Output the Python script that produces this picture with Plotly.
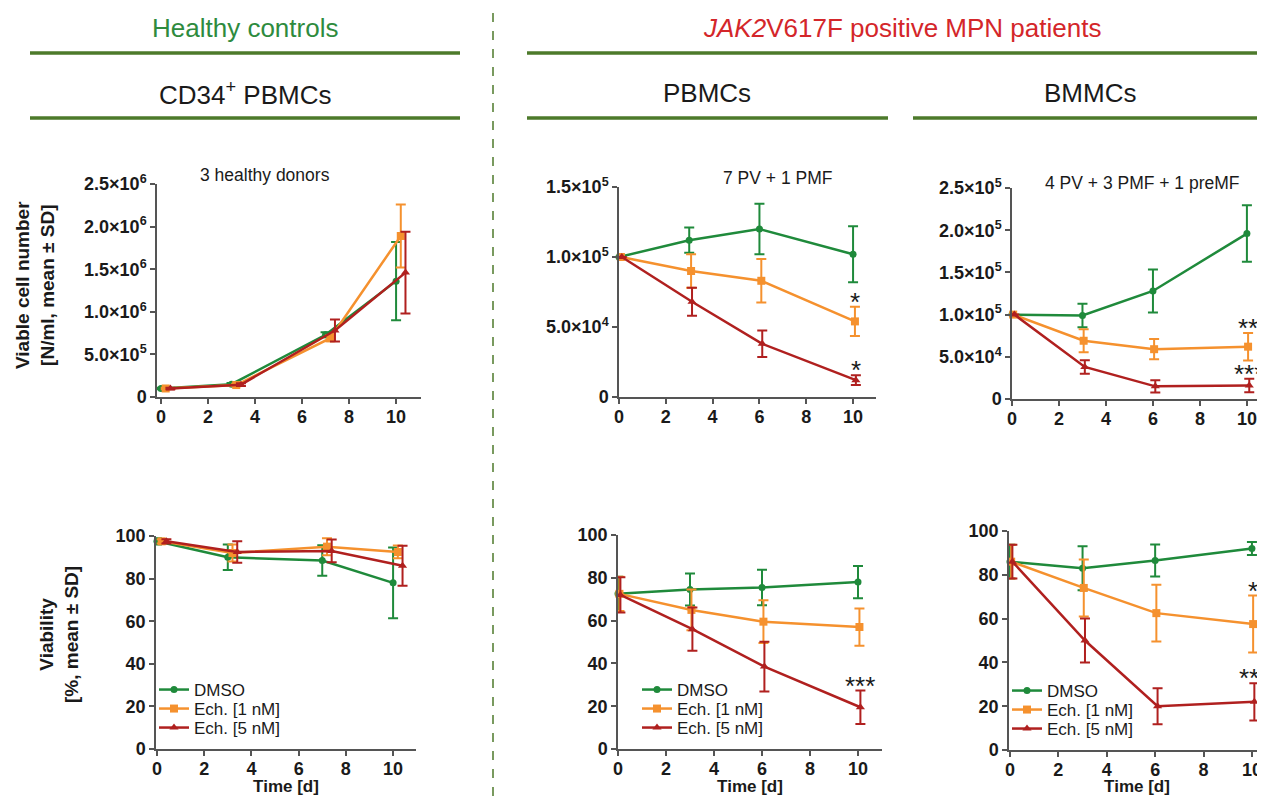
import plotly.graph_objects as go

# page body has an 8px margin: the figure is sized/offset to fill the 1265x796 window
OFF = 8
W, H = 1265 - OFF, 796 - OFF

# ---------------- data ----------------
series_names = ["DMSO", "Ech. [1 nM]", "Ech. [5 nM]"]

healthy_days = [0, 3, 7, 10]
patient_days = [0, 3, 6, 10]

# Healthy controls, CD34+ PBMCs - viable cell number (N/ml)
hc_cells_dmso = [1.0e5, 1.5e5, 7.3e5, 1.36e6]
hc_cells_dmso_sd = [0.1e5, 0.15e5, 0.3e5, 0.46e6]
hc_cells_ech1 = [1.0e5, 1.4e5, 6.9e5, 1.89e6]
hc_cells_ech1_sd = [0.1e5, 0.15e5, 0.35e5, 0.37e6]
hc_cells_ech5 = [1.0e5, 1.45e5, 7.8e5, 1.46e6]
hc_cells_ech5_sd = [0.1e5, 0.15e5, 1.3e5, 0.48e6]

# Healthy controls - viability (%)
hc_via_dmso = [97.5, 90.0, 88.5, 78.0]
hc_via_dmso_sd = [1.5, 6.0, 7.2, 16.6]
hc_via_ech1 = [97.5, 92.0, 95.0, 92.5]
hc_via_ech1_sd = [1.0, 4.0, 4.0, 3.0]
hc_via_ech5 = [97.5, 92.5, 93.0, 86.0]
hc_via_ech5_sd = [1.0, 5.0, 5.3, 9.4]

# MPN patients, PBMCs - viable cell number
pb_cells_dmso = [1.0e5, 1.12e5, 1.2e5, 1.02e5]
pb_cells_dmso_sd = [0.0, 0.09e5, 0.18e5, 0.2e5]
pb_cells_ech1 = [1.0e5, 0.9e5, 0.83e5, 0.54e5]
pb_cells_ech1_sd = [0.0, 0.12e5, 0.155e5, 0.105e5]
pb_cells_ech5 = [1.0e5, 0.68e5, 0.38e5, 0.12e5]
pb_cells_ech5_sd = [0.0, 0.1e5, 0.095e5, 0.035e5]

# MPN patients, PBMCs - viability
pb_via_dmso = [72.5, 74.5, 75.5, 78.0]
pb_via_dmso_sd = [8.0, 7.5, 8.3, 7.5]
pb_via_ech1 = [72.5, 65.0, 59.5, 57.0]
pb_via_ech1_sd = [8.0, 9.5, 10.0, 8.7]
pb_via_ech5 = [72.0, 56.0, 38.5, 19.5]
pb_via_ech5_sd = [8.2, 10.1, 11.6, 7.8]

# MPN patients, BMMCs - viable cell number
bm_cells_dmso = [1.0e5, 0.99e5, 1.28e5, 1.96e5]
bm_cells_dmso_sd = [0.0, 0.14e5, 0.255e5, 0.335e5]
bm_cells_ech1 = [1.0e5, 0.69e5, 0.59e5, 0.62e5]
bm_cells_ech1_sd = [0.0, 0.135e5, 0.12e5, 0.163e5]
bm_cells_ech5 = [1.0e5, 0.38e5, 0.15e5, 0.16e5]
bm_cells_ech5_sd = [0.0, 0.08e5, 0.072e5, 0.08e5]

# MPN patients, BMMCs - viability
bm_via_dmso = [86.0, 83.0, 86.5, 92.0]
bm_via_dmso_sd = [7.7, 10.0, 7.3, 3.0]
bm_via_ech1 = [86.0, 74.0, 62.5, 57.5]
bm_via_ech1_sd = [7.7, 13.0, 13.0, 13.0]
bm_via_ech5 = [86.0, 50.0, 20.0, 22.0]
bm_via_ech5_sd = [7.7, 10.0, 8.2, 8.5]

# significance marks: (panel, series index, time index, label)
significance = [
    ("pb_top", 1, 3, "*"),
    ("pb_top", 2, 3, "*"),
    ("bm_top", 1, 3, "**"),
    ("bm_top", 2, 3, "***"),
    ("pb_bot", 2, 3, "***"),
    ("bm_bot", 1, 3, "*"),
    ("bm_bot", 2, 3, "***"),
]

cell_ticks_hc = [0, 5e5, 1e6, 1.5e6, 2e6, 2.5e6]
cell_ticktext_hc = ["0", "5.0×10<sup>5</sup>", "1.0×10<sup>6</sup>", "1.5×10<sup>6</sup>",
                    "2.0×10<sup>6</sup>", "2.5×10<sup>6</sup>"]
cell_ticks_pb = [0, 5e4, 1e5, 1.5e5]
cell_ticktext_pb = ["0", "5.0×10<sup>4</sup>", "1.0×10<sup>5</sup>", "1.5×10<sup>5</sup>"]
cell_ticks_bm = [0, 5e4, 1e5, 1.5e5, 2e5, 2.5e5]
cell_ticktext_bm = ["0", "5.0×10<sup>4</sup>", "1.0×10<sup>5</sup>", "1.5×10<sup>5</sup>",
                    "2.0×10<sup>5</sup>", "2.5×10<sup>5</sup>"]

# ---------------- styles ----------------
FONT = "Liberation Sans, Arial, sans-serif"
COLORS = ["#1f8a3b", "#f5912e", "#b0201f"]
SYMBOLS = ["circle", "square", "triangle-up"]
MSIZES = [7, 8, 8]
AXIS_COLOR = "#555555"
HDR_LINE = "#4d7a2b"
TXT = "#1a1a1a"

def fx(px):
    return (px - OFF) / W

def fy(py):
    return 1 - (py - OFF) / H

panels = {
    "hc_top": dict(ax=1, xd=(157, 421), yd=(184, 397), xr=(-0.17, 11.06), yr=(0, 2.5e6),
                   days=healthy_days, offs=[0.0, 0.2, 0.4],
                   data=[(hc_cells_dmso, hc_cells_dmso_sd), (hc_cells_ech1, hc_cells_ech1_sd),
                         (hc_cells_ech5, hc_cells_ech5_sd)],
                   ticks=(cell_ticks_hc, cell_ticktext_hc), legend=None),
    "hc_bot": dict(ax=2, xd=(156, 416), yd=(536, 749), xr=(-0.04, 10.97), yr=(0, 100),
                   days=healthy_days, offs=[0.0, 0.2, 0.4],
                   data=[(hc_via_dmso, hc_via_dmso_sd), (hc_via_ech1, hc_via_ech1_sd),
                         (hc_via_ech5, hc_via_ech5_sd)],
                   ticks=None, legend=dict(x=154, rows=[690, 709, 728])),
    "pb_top": dict(ax=3, xd=(619, 876), yd=(187, 397), xr=(0, 10.98), yr=(0, 1.5e5),
                   days=patient_days, offs=[0.0, 0.08, 0.12],
                   data=[(pb_cells_dmso, pb_cells_dmso_sd), (pb_cells_ech1, pb_cells_ech1_sd),
                         (pb_cells_ech5, pb_cells_ech5_sd)],
                   ticks=(cell_ticks_pb, cell_ticktext_pb), legend=None),
    "pb_bot": dict(ax=4, xd=(618, 882), yd=(535, 749), xr=(0, 11), yr=(0, 100),
                   days=patient_days, offs=[0.0, 0.06, 0.1],
                   data=[(pb_via_dmso, pb_via_dmso_sd), (pb_via_ech1, pb_via_ech1_sd),
                         (pb_via_ech5, pb_via_ech5_sd)],
                   ticks=None, legend=dict(x=637, rows=[690, 709, 728])),
    "bm_top": dict(ax=5, xd=(1012, 1265), yd=(188, 399), xr=(0, 10.77), yr=(0, 2.5e5),
                   days=patient_days, offs=[0.0, 0.05, 0.1],
                   data=[(bm_cells_dmso, bm_cells_dmso_sd), (bm_cells_ech1, bm_cells_ech1_sd),
                         (bm_cells_ech5, bm_cells_ech5_sd)],
                   ticks=(cell_ticks_bm, cell_ticktext_bm), legend=None),
    "bm_bot": dict(ax=6, xd=(1009, 1265), yd=(531, 750), xr=(-0.04, 10.54), yr=(0, 100),
                   days=patient_days, offs=[0.0, 0.05, 0.1],
                   data=[(bm_via_dmso, bm_via_dmso_sd), (bm_via_ech1, bm_via_ech1_sd),
                         (bm_via_ech5, bm_via_ech5_sd)],
                   ticks=None, legend=dict(x=1007, rows=[691, 710, 729])),
}

fig = go.Figure()
layout = dict(
    width=W, height=H, margin=dict(l=0, r=0, t=0, b=0, pad=0, autoexpand=False),
    paper_bgcolor="white", plot_bgcolor="white",
    font=dict(family=FONT, color=TXT),
    showlegend=True,
)

annotations = []
shapes = []
legend_count = 0

for key, p in panels.items():
    n = p["ax"]
    xa = "x" if n == 1 else f"x{n}"
    ya = "y" if n == 1 else f"y{n}"
    for i in range(3):
        vals, sds = p["data"][i]
        xs = [d + p["offs"][i] for d in p["days"]]
        tr = go.Scatter(
            x=xs, y=vals, xaxis=xa, yaxis=ya,
            mode="lines+markers", name=series_names[i],
            line=dict(color=COLORS[i], width=2.5),
            marker=dict(color=COLORS[i], symbol=SYMBOLS[i], size=MSIZES[i]),
            error_y=dict(type="data", array=sds, visible=True, color=COLORS[i],
                         thickness=2, width=5),
            cliponaxis=False,
            showlegend=p["legend"] is not None,
        )
        if p["legend"]:
            legend_count += 1
            lid = "legend" if legend_count == 1 else f"legend{legend_count}"
            tr.legend = lid
            layout[lid] = dict(
                bgcolor="rgba(0,0,0,0)", borderwidth=0, itemwidth=30,
                font=dict(family=FONT, size=17, color=TXT),
                xanchor="left", yanchor="middle",
                x=fx(p["legend"]["x"]), y=fy(p["legend"]["rows"][i]),
            )
        fig.add_trace(tr)

    xkey = "xaxis" if n == 1 else f"xaxis{n}"
    ykey = "yaxis" if n == 1 else f"yaxis{n}"
    xaxis = dict(
        domain=[fx(p["xd"][0]), fx(p["xd"][1])], range=list(p["xr"]), anchor=ya,
        showgrid=False, zeroline=False, showline=True, linecolor=AXIS_COLOR, linewidth=1.5,
        ticks="outside", ticklen=5, tickwidth=1.5, tickcolor=AXIS_COLOR,
        tickvals=[0, 2, 4, 6, 8, 10], automargin=False, ticklabelstandoff=-2,
        tickfont=dict(family=FONT, size=18, color=TXT, weight="bold"),
    )
    if key.endswith("bot"):
        xaxis["title"] = dict(text="Time [d]", standoff=4,
                              font=dict(family=FONT, size=17, color=TXT, weight="bold"))
    yaxis = dict(
        domain=[fy(p["yd"][1]), fy(p["yd"][0])], range=list(p["yr"]), anchor=xa,
        showgrid=False, zeroline=False, showline=True, linecolor=AXIS_COLOR, linewidth=1.5,
        ticks="outside", ticklen=5, tickwidth=1.5, tickcolor=AXIS_COLOR, automargin=False,
        tickfont=dict(family=FONT, size=18, color=TXT, weight="bold"),
    )
    if p["ticks"]:
        yaxis["tickvals"] = p["ticks"][0]
        yaxis["ticktext"] = p["ticks"][1]
    else:
        yaxis["tickvals"] = [0, 20, 40, 60, 80, 100]
    layout[xkey] = xaxis
    layout[ykey] = yaxis

# significance stars, placed just above the upper error bar
for key, si, ti, label in significance:
    p = panels[key]
    n = p["ax"]
    xa = "x" if n == 1 else f"x{n}"
    ya = "y" if n == 1 else f"y{n}"
    vals, sds = p["data"][si]
    annotations.append(dict(
        x=p["days"][ti] + p["offs"][si], y=vals[ti] + sds[ti], xref=xa, yref=ya,
        text=label, showarrow=False, xanchor="center", yanchor="bottom", yshift=-12,
        font=dict(family=FONT, size=26, color=TXT),
    ))

# panel sub-titles
sub = [
    dict(x=fx(265), y=fy(175), text="3 healthy donors"),
    dict(x=fx(778), y=fy(178), text="7 PV + 1 PMF"),
    dict(x=fx(1142), y=fy(183), text="4 PV + 3 PMF + 1 preMF"),
]
for a in sub:
    a.update(xref="paper", yref="paper", showarrow=False, xanchor="center", yanchor="middle",
             font=dict(family=FONT, size=17.5, color=TXT))
annotations += sub

# headers
hdr = [
    dict(x=fx(245), y=fy(28), text="Healthy controls", font=dict(family=FONT, size=26, color="#2e8b3e")),
    dict(x=fx(902), y=fy(28), text="<i>JAK2</i>V617F positive MPN patients",
         font=dict(family=FONT, size=26, color="#d4262a")),
    dict(x=fx(245), y=fy(93), text="CD34<sup>+</sup> PBMCs", font=dict(family=FONT, size=26, color=TXT)),
    dict(x=fx(707), y=fy(93), text="PBMCs", font=dict(family=FONT, size=26, color=TXT)),
    dict(x=fx(1090), y=fy(93), text="BMMCs", font=dict(family=FONT, size=26, color=TXT)),
]
for a in hdr:
    a.update(xref="paper", yref="paper", showarrow=False, xanchor="center", yanchor="middle")
annotations += hdr

# y-axis titles
ytitles = [
    dict(x=fx(35), y=fy(285), text="Viable cell number<br>[N/ml, mean ± SD]"),
    dict(x=fx(59), y=fy(635), text="Viability<br>[%, mean ± SD]"),
]
for a in ytitles:
    a.update(xref="paper", yref="paper", showarrow=False, xanchor="center", yanchor="middle",
             textangle=-90, font=dict(family=FONT, size=19, color=TXT, weight="bold"))
annotations += ytitles

# header lines
for (x0, x1, y) in [(30, 460, 53), (30, 460, 118), (527, 1265, 53), (527, 888, 118), (913, 1265, 118)]:
    shapes.append(dict(type="line", xref="paper", yref="paper", x0=fx(x0), x1=fx(x1), y0=fy(y), y1=fy(y),
                       line=dict(color=HDR_LINE, width=3.5)))
shapes.append(dict(type="line", xref="paper", yref="paper", x0=fx(493), x1=fx(493), y0=0, y1=1,
                   line=dict(color=HDR_LINE, width=1.5, dash="dash")))

layout["annotations"] = annotations
layout["shapes"] = shapes
fig.update_layout(**layout)

fig.write_html("out.html")
